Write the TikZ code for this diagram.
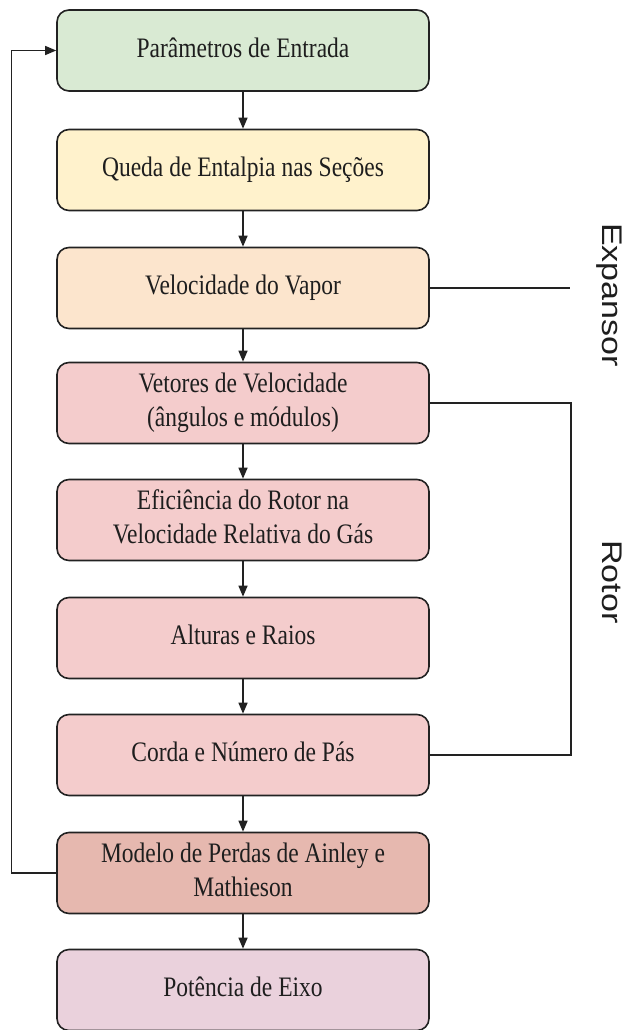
\documentclass[tikz,border=0pt]{standalone}
\usepackage{fontspec}
\setmainfont{Liberation Serif}
\newfontfamily\arialf{Liberation Sans}
\usepackage{graphicx}
\usetikzlibrary{arrows.meta}
\definecolor{cgreen}{HTML}{D9EAD3}
\definecolor{cyellow}{HTML}{FFF2CC}
\definecolor{corange}{HTML}{FCE5CD}
\definecolor{cpink}{HTML}{F4CCCC}
\definecolor{cberry}{HTML}{E6B8AF}
\definecolor{cmagenta}{HTML}{EAD1DC}
\definecolor{lineC}{HTML}{222222}
\definecolor{txtC}{HTML}{1E1E1E}
\newcommand{\boxtxt}[1]{\scalebox{1}[1.2]{\begin{tabular}{@{}c@{}}#1\end{tabular}}}
\tikzset{
  stage/.style={draw=lineC, line width=1.6pt, rounded corners=12pt,
    minimum width=372pt, minimum height=81pt, inner sep=0pt,
    text=txtC, font=\fontsize{23.5}{28}\selectfont},
  flow/.style={draw=lineC, line width=1.4pt, -{Triangle[length=11pt,width=9pt]}},
  bracketline/.style={draw=lineC, line width=1.4pt},
  sidelabel/.style={rotate=-90, anchor=base, inner sep=0pt, text=txtC,
    font=\arialf\fontsize{28.4}{30}\selectfont}
}
\begin{document}
\begin{tikzpicture}[x=1pt, y=-1pt]
\useasboundingbox (0,0) rectangle (630,1030);
\node[stage, fill=cgreen]   (m1) at (243,50.5) {\boxtxt{Parâmetros de Entrada}};
\node[stage, fill=cyellow]  (m2) at (243,170)  {\boxtxt{Queda de Entalpia nas Seções}};
\node[stage, fill=corange]  (m3) at (243,288)  {\boxtxt{Velocidade do Vapor}};
\node[stage, fill=cpink]    (m4) at (243,403)  {\boxtxt{Vetores de Velocidade\\(ângulos e módulos)}};
\node[stage, fill=cpink]    (m5) at (243,520)  {\boxtxt{Eficiência do Rotor na\\Velocidade Relativa do Gás}};
\node[stage, fill=cpink]    (m6) at (243,638)  {\boxtxt{Alturas e Raios}};
\node[stage, fill=cpink]    (m7) at (243,755)  {\boxtxt{Corda e Número de Pás}};
\node[stage, fill=cberry]   (m8) at (243,873)  {\boxtxt{Modelo de Perdas de Ainley e\\Mathieson}};
\node[stage, fill=cmagenta] (m9) at (243,990)  {\boxtxt{Potência de Eixo}};

\foreach \a/\b in {m1/m2,m2/m3,m3/m4,m4/m5,m5/m6,m6/m7,m7/m8,m8/m9}
  \draw[flow] (\a.south) -- (\b.north);

\draw[flow] (m8.west) -- ++(-45,0) |- (m1.west);

\coordinate (expend) at (570,288);
\draw[bracketline] (m3.east) -- (expend);
\draw[bracketline] (m4.east) -- ++(141,0) |- (m7.east);

\node[sidelabel] (lexp) at (602,295) {\scalebox{1.2}[1]{Expansor}};
\node[sidelabel] (lrot) at (602,582) {\scalebox{1.2}[1]{Rotor}};
\end{tikzpicture}
\end{document}
